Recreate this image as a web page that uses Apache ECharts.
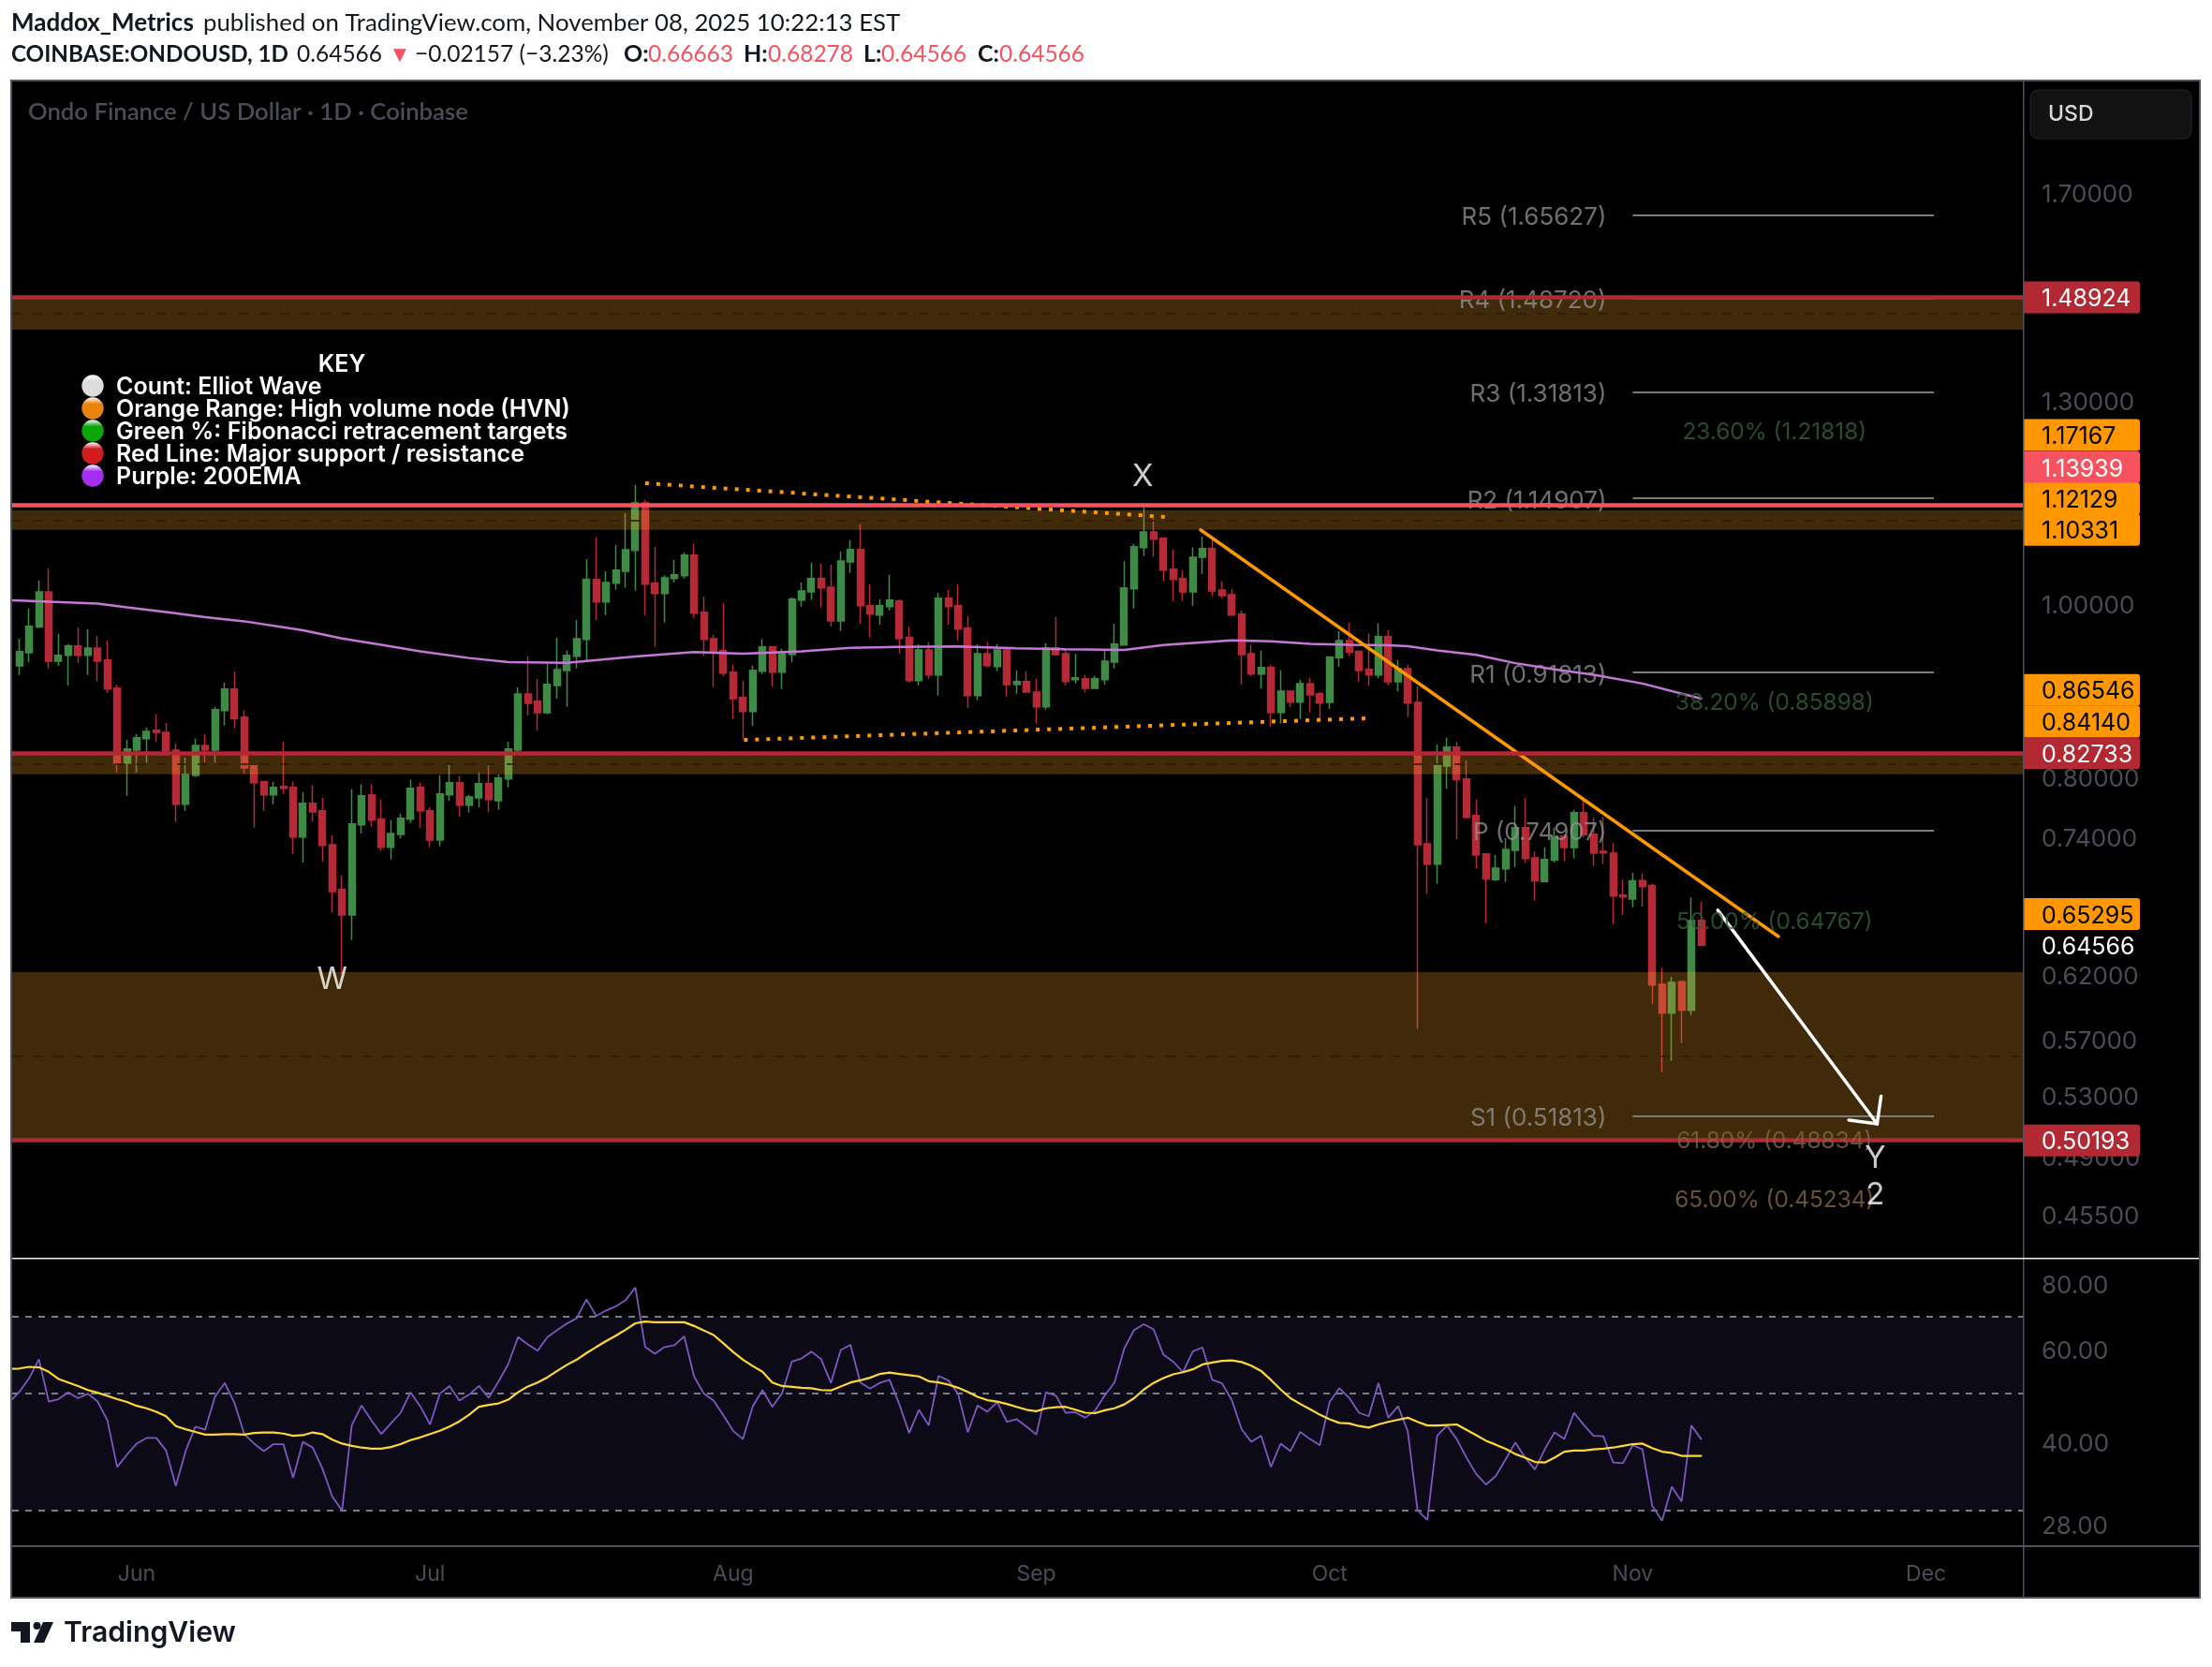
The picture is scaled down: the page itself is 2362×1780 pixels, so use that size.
<!DOCTYPE html>
<html>
<head>
<meta charset="utf-8">
<title>ONDOUSD</title>
<style>
html,body{margin:0;padding:0;background:#fff}
#main{width:2362px;height:1780px}
</style>
<script src="https://cdn.jsdelivr.net/npm/echarts@6/dist/echarts.min.js"></script>
</head>
<body>
<div id="main"></div>
<script>
// candles, one per day, index 0 = May 20 2025
var openPrices = [
  .9259,.9417,.9734,1.0186,.9315,.9384,.9498,.9384,.9474,.9327,
  .8996,.8166,.8305,.8427,.8519,.8496,.8305,.7744,.8037,.8355,
  .8305,.8739,.8984,.8664,.8138,.7972,.7839,.7924,.7914,.7423,
  .7753,.7678,.7350,.6938,.6714,.7540,.7839,.7596,.7325,.7448,
  .7596,.7914,.7678,.7394,.7839,.7962,.7734,.7808,.7952,.7780,
  .8000,.8305,.8929,.8844,.8716,.9027,.9202,.9372,.9579,1.0350,
  1.0053,1.0301,1.0459,1.0745,1.1423,1.0301,1.0164,1.0363,1.0398,1.0681,
  .9921,.9587,.9441,.9183,.8887,.8727,.9193,.9486,.9182,.9394,
  1.0077,1.0186,1.0361,1.0248,.9812,1.0587,1.0757,1.0005,.9884,.9993,
  1.0065,.9602,.9082,.9451,.9149,1.0101,1.0005,.9718,.8909,.9405,
  .9249,.9451,.9038,.9071,.8951,.8781,.9475,.9405,.9093,.9105,
  .8994,.9093,.9304,.9510,1.0224,1.0783,1.1005,1.0913,1.0487,1.0361,
  1.0186,1.0652,1.0770,1.0211,1.0149,.9896,.9405,.9160,.9238,.8717,
  .8962,.8834,.9049,.8932,.8832,.9356,.9565,.9434,.9216,.9149,
  .9613,.9070,.9225,.8832,.7358,.7168,.8136,.8337,.8000,.7632,
  .7264,.7026,.7125,.7297,.7514,.7227,.7009,.7204,.7431,.7323,
  .7660,.7451,.7287,.7270,.6888,.6853,.7019,.6974,.6139,.5916,
  .6159,.5936,.66663];
var highPrices = [
  .9587,.9968,1.0336,1.0496,.9645,.9522,.9730,.9705,.9624,.9567,
  .9039,.8416,.8478,.8548,.8698,.8601,.8377,.8227,.8427,.8478,
  .8780,.9062,.9191,.8739,.8138,.7982,.7972,.8395,.7972,.7866,
  .7934,.7808,.7439,.7064,.7897,.7945,.7945,.7791,.7586,.7652,
  .7993,.7962,.7714,.8040,.8155,.8030,.7839,.8068,.8145,.8047,
  .8395,.9008,.9372,.9105,.9283,.9600,.9441,.9823,1.0625,1.0926,
  1.0459,1.0819,1.1277,1.1694,1.1468,1.0796,1.0407,1.0616,1.0718,1.0833,
  1.0124,.9637,1.0040,.9271,.9082,.9260,.9581,.9498,.9463,1.0113,
  1.0311,1.0574,1.0561,1.0549,1.0730,1.0887,1.1113,1.0286,1.0089,1.0411,
  1.0089,.9741,.9521,.9544,1.0173,1.0211,1.0286,.9872,.9521,.9544,
  .9521,.9486,.9204,.9193,.9105,.9532,.9860,.9463,.9405,.9149,
  .9138,.9440,.9776,1.0600,1.0835,1.1357,1.1194,1.0913,1.0757,1.0474,
  1.0783,1.0939,1.0887,1.0324,1.0224,.9945,.9509,.9440,.9271,.9204,
  .8962,.9093,.9116,.8953,.9373,.9684,.9789,.9434,.9652,.9780,
  .9693,.9325,.9273,.9016,.7805,.8364,.8438,.8391,.8197,.7790,
  .7264,.7254,.7413,.7725,.7805,.7287,.7323,.7514,.7451,.7689,
  .7790,.7611,.7618,.7365,.7026,.7089,.7082,.6990,.6271,.6197,
  .6171,.6866,.68278];
var lowPrices = [
  .9148,.9303,.9721,.9226,.9259,.9027,.9295,.9148,.9074,.8941,
  .8068,.7828,.8068,.8173,.8395,.8245,.7570,.7678,.8020,.8173,
  .8173,.8571,.8541,.8058,.7514,.7678,.7744,.7849,.7262,.7184,
  .7570,.7193,.6737,.6226,.6500,.7458,.7524,.7291,.7212,.7413,
  .7560,.7514,.7325,.7335,.7780,.7622,.7662,.7714,.7668,.7688,
  .7914,.8255,.8687,.8519,.8698,.8875,.8780,.9226,.9303,.9823,
  .9883,1.0212,1.0239,1.0199,.9883,.9486,.9790,1.0310,1.0363,.9849,
  .9372,.9008,.9136,.8653,.8427,.8570,.9160,.9016,.8984,.9304,
  .9993,1.0077,.9981,.9741,.9683,1.0437,.9776,.9602,.9764,.9945,
  .9405,.9060,.9027,.9105,.8909,.9764,.9567,.8770,.8855,.9238,
  .9193,.8898,.8930,.8951,.8591,.8749,.9382,.9027,.9049,.8951,
  .8994,.9038,.9227,.9510,.9969,1.0666,1.0653,1.0324,1.0065,1.0065,
  1.0005,1.0424,1.0125,1.0101,.9884,.9038,.9138,.8994,.8560,.8591,
  .8781,.8642,.8717,.8620,.8759,.9247,.9373,.9070,.9028,.9111,
  .9028,.8957,.8668,.5796,.6898,.6990,.7899,.7400,.7604,.7132,
  .6643,.7013,.7006,.7141,.7181,.6841,.7009,.7184,.7198,.7221,
  .7424,.7151,.7171,.6637,.6714,.6781,.6787,.5987,.5481,.5562,
  .5693,.5900,.64566];
var closePrices = [
  .9429,.9743,1.0186,.9315,.9384,.9498,.9384,.9474,.9315,.8984,
  .8166,.8316,.8438,.8507,.8496,.8295,.7744,.8047,.8355,.8305,
  .8750,.8984,.8646,.8116,.7962,.7839,.7914,.7904,.7423,.7753,
  .7668,.7344,.6920,.6714,.7550,.7828,.7586,.7325,.7458,.7606,
  .7904,.7678,.7394,.7849,.7962,.7734,.7818,.7952,.7791,.8010,
  .8316,.8929,.8821,.8716,.9039,.9214,.9384,.9587,1.0350,1.0053,
  1.0310,1.0474,1.0755,1.1423,1.0288,1.0164,1.0372,1.0412,1.0681,.9908,
  .9579,.9429,.9171,.8875,.8728,.9204,.9486,.9182,.9405,1.0089,
  1.0198,1.0361,1.0236,.9812,1.0600,1.0757,1.0005,.9896,1.0005,1.0077,
  .9590,.9082,.9451,.9149,1.0101,.9993,.9706,.8909,.9405,.9260,
  .9451,.9038,.9071,.8951,.8781,.9475,.9394,.9071,.9116,.8994,
  .9105,.9315,.9521,1.0236,1.0796,1.1005,1.0900,1.0474,1.0349,1.0186,
  1.0652,1.0770,1.0198,1.0137,.9884,.9394,.9160,.9238,.8717,.8962,
  .8834,.9049,.8918,.8824,.9364,.9565,.9425,.9203,.9149,.9613,
  .9070,.9225,.8824,.7351,.7168,.8147,.8337,.7993,.7615,.7254,
  .7033,.7132,.7306,.7514,.7221,.7016,.7211,.7424,.7323,.7660,
  .7445,.7270,.7273,.6879,.6872,.7016,.6964,.6133,.5916,.6153,
  .5936,.6664,.64566];

// RSI and its moving average, same days as the candles
var rsiValues = [
  50.4,53.5,58.1,48.3,48.8,50.3,49,50,48.3,44.5,
  36.3,38.3,40.2,41.2,41.2,39,33.4,38.9,43.3,42.7,
  49.3,52.4,48,41.9,40.2,38.9,40.1,40.1,34.6,40.5,
  39.5,36,31.9,30,43.6,47.5,44.5,41.9,43.9,46,
  50.3,47.3,43.7,50,51.7,48.5,49.8,51.7,49.1,52.7,
  56.9,64,62,60.3,64,66,67.9,69.5,75.5,70.2,
  71.9,73.2,75.2,79.5,61.3,59.5,61.3,61.8,64.2,53.9,
  50,48.5,45.5,42.5,41,47.3,50.8,47.2,50.1,57.5,
  58.3,60.1,58.1,52.4,60.5,61.9,52.5,51.1,52.4,53.1,
  47.7,42.1,46.6,43.5,54,53,50,42.2,47.5,46.2,
  48.2,44.2,44.7,43.3,41.8,50.3,49.6,46,46.1,45,
  46.4,49.6,52.5,60.9,66,67.7,66.2,59.3,57.5,54.9,
  60.1,61.2,53.1,52.3,48.6,42.8,40.5,41.6,36.3,40.2,
  38.9,42.3,41,39.9,48.2,51.2,49.1,46,45.3,52.4,
  45,47.3,42.4,30,28.8,41.6,43.5,41,37.8,35.2,
  33.6,34.9,37.5,40.4,37.8,35.9,39.2,42.2,41,46,
  43.6,41.6,41.5,37,36.9,39.9,39.2,30.6,28.7,33.3,
  31.2,43.5,41];
var rsiMaValues = [
  55.8,56.2,56.1,55,53.3,52.5,51.7,50.8,50.2,49.5,
  48.8,48.2,47.4,46.9,46.2,45.3,43.4,42.8,42.3,41.8,
  41.8,41.9,41.9,41.8,42.1,42.2,42.2,42,41.6,41.7,
  42.2,41.9,40.9,40.2,39.8,39.5,39.3,39.3,39.6,40.1,
  40.8,41.3,41.9,42.5,43.3,44.3,45.6,47.2,47.6,47.9,
  48.7,50.3,51.6,52.5,53.7,55.2,56.7,58,59.7,61.3,
  62.9,64.4,66.1,68,68.5,68.3,68.3,68.3,68.3,67.2,
  65.9,64.6,62.3,60,58,56.4,55,52.5,51.7,51.5,
  51.3,51.2,50.8,50.7,51.6,52.5,53,53.6,54.5,54.8,
  54.5,54.2,53.9,52.8,52.5,52,51.3,50.4,49.3,48.6,
  48.3,47.8,47.2,46.6,46.3,46.9,47.1,47.2,46.6,46,
  45.9,46.5,46.9,47.7,49,50.9,52.4,53.5,54.4,54.9,
  55.6,56.8,57.3,57.7,57.8,57.4,56.5,55.2,53.1,50.9,
  49,47.8,46.7,45.6,44.7,44,43.9,43.4,43.1,43.7,
  44.2,44.6,45,44.2,43.5,43.5,43.6,43.7,42.7,41.7,
  40.7,40,39.3,38.4,37.8,37.1,37,37.8,38.8,39,
  39,39.2,39.3,39.5,39.8,40.1,40.2,39.4,38.8,38.6,
  38.1,38.1,38.1];
// the day before the first candle, only so the lines run to the pane edge
var rsiBefore = 48.2;
var rsiMaBefore = 55.7;

// 200 EMA, read at these candle indexes
var emaDays = [-1,0,3,8,11,15,19,23,29,33,37,41,46,50,56,63,69,74,80,85,90,96,102,107,113,117,124,128,132,136,140,142,145,149,153,157,161,166,172];
var emaValues = [1.0075,1.0071,1.0057,1.0032,.9985,.9925,.9857,.9806,.9692,.9591,.9514,.9433,.9352,.9303,.9293,.9371,.9424,.9405,.9432,.9475,.9486,.9494,.9471,.9459,.9451,.9509,.9567,.9556,.9525,.9512,.9508,.9495,.9443,.9390,.9290,.9216,.9153,.9049,.8874];

// axis labels
var priceTicks = [1.7,1.3,1.0,.8,.74,.62,.57,.53,.49,.455];
var rsiTicks = [80,60,40,28];
var monthDays = [12,42,73,104,134,165,195];
var monthNames = ['Jun','Jul','Aug','Sep','Oct','Nov','Dec'];

// drawn levels
var redLevels = [1.48924,.82733,.50193];
var pinkLevel = 1.13939;
var bandTops = [1.48924,1.1319,.8257,.6237];
var bandBottoms = [1.4285,1.1033,.8050,.50193];
var bandMids = [1.4582,1.1167,.8159,.5592];
var pivotNames = ['R5','R4','R3','R2','R1','P','S1'];
var pivotValues = [1.65627,1.48720,1.31813,1.14907,.91813,.74907,.51813];
var pivotDays = [165,195.8];
var fibNames = ['23.60%','38.20%','50.00%','61.80%','65.00%'];
var fibValues = [1.21818,.85898,.64767,.48834,.45234];
var fibDay = 179.5;
var waveNames = ['W','X','Y','2'];
var waveDays = [32,114.9,189.8,189.8];
var wavePrices = [.6172,1.1815,.4903,.4675];

// drawings
var dottedTop = [[64,1.17167],[117.9,1.12129]];
var dottedBottom = [[74.1,.84140],[138.4,.86546]];
var trendLine = [[120.8,1.10331],[179.9,.65295]];
var arrowLine = [[173.7,.6755],[190,.5128]];
var arrowHeadA = [[190.4,.5313],[190,.5128]];
var arrowHeadB = [[187.1,.5153],[190,.5128]];

// price scale tags; anchors are where the tag sits once the scale has stacked them
var tagTexts = ['1.48924','1.17167','1.13939','1.12129','1.10331','0.86546','0.84140','0.82733','0.65295','0.64566','0.50193'];
var tagAnchors = [1.48924,1.2468,1.1960,1.1487,1.10331,.8975,.8615,.82733,.6721,.64566,.50193];
var tagKinds = ['red','orange','pink','orange','orange','orange','orange','red','orange','plain','red'];

var keyNames = ['Count: Elliot Wave','Orange Range: High volume node (HVN)','Green %: Fibonacci retracement targets','Red Line: Major support / resistance','Purple: 200EMA'];
var keyColors = ['#dcdcdc','#e8840c','#0aa60a','#cf1c1c','#a52df2'];

var UI_FONT = 'Inter';
var X_MIN = -0.7375, X_MAX = 204.9;
var tagStyle = {
    red: {bg: '#b22833', fg: '#ffffff'},
    orange: {bg: '#ff9800', fg: '#000000'},
    pink: {bg: '#f7525f', fg: '#ffffff'},
    plain: {bg: null, fg: '#ffffff'}
};

var candles = openPrices.map(function (o, i) {
    return [i, o, closePrices[i], lowPrices[i], highPrices[i]];
});
function byDay(values, before) {
    return [[-1, before]].concat(values.map(function (v, i) { return [i, v]; }));
}
function plainLine(name, data, color, width, dash, z, xi, yi) {
    return {
        name: name, type: 'line', data: data, xAxisIndex: xi || 0, yAxisIndex: yi || 0,
        showSymbol: false, symbol: 'none', silent: true, z: z, clip: true,
        lineStyle: {color: color, width: width, type: dash || 'solid', cap: dash ? 'butt' : 'round'}
    };
}
function headerText(x, y, text, color, bold, size) {
    return {type: 'text', z: 52, x: x, y: y, style: {
        text: text, fill: color, font: (bold ? '700 ' : '400 ') + size + 'px Lato', verticalAlign: 'middle'
    }};
}

// static furniture of the page: header, frame, key, logo
var INK = '#131722', HEAD_RED = '#f7525f';
var graphics = [
    {type: 'rect', z: -10, shape: {x: 12, y: 86, width: 2337, height: 1620}, style: {fill: '#000000'}},
    {type: 'rect', z: 50, shape: {x: 11, y: 85, width: 2339, height: 2}, style: {fill: '#50535e'}},
    {type: 'rect', z: 50, shape: {x: 11, y: 1705, width: 2339, height: 2}, style: {fill: '#50535e'}},
    {type: 'rect', z: 50, shape: {x: 11, y: 85, width: 2, height: 1622}, style: {fill: '#50535e'}},
    {type: 'rect', z: 50, shape: {x: 2348, y: 85, width: 2, height: 1622}, style: {fill: '#50535e'}},
    {type: 'rect', z: 50, shape: {x: 2160, y: 86, width: 1.5, height: 1620}, style: {fill: '#50535e'}},
    {type: 'rect', z: 50, shape: {x: 13, y: 1650, width: 2335, height: 2}, style: {fill: '#50535e'}},
    {type: 'rect', z: 50, shape: {x: 13, y: 1343, width: 2335, height: 1.5}, style: {fill: '#f0f0f0'}},
    {type: 'rect', z: 51, shape: {x: 2168, y: 96, width: 172, height: 52, r: 8}, style: {fill: '#121212', stroke: '#26272b', lineWidth: 1}},
    {type: 'text', z: 52, x: 2187, y: 122, style: {text: 'USD', fill: '#d8d9dd', font: '500 23px ' + UI_FONT, verticalAlign: 'middle'}},
    {type: 'text', z: 52, x: 30, y: 120, style: {text: 'Ondo Finance / US Dollar · 1D · Coinbase', fill: '#4a4c57', font: '600 25.7px Lato', verticalAlign: 'middle'}},
    {type: 'text', z: 52, x: 365, y: 389.5, style: {text: 'KEY', fill: '#ffffff', font: '600 25px ' + UI_FONT, align: 'center', verticalAlign: 'middle'}},
    headerText(12, 25, 'Maddox_Metrics', INK, true, 26),
    headerText(217, 25, 'published on TradingView.com, November 08, 2025 10:22:13 EST', INK, false, 25.8),
    headerText(12, 58, 'COINBASE:ONDOUSD, 1D', INK, true, 24.2),
    headerText(317, 58, '0.64566', INK, false, 24.5),
    headerText(415, 58, '▼', HEAD_RED, false, 24),
    headerText(443, 58, '−0.02157 (−3.23%)', INK, false, 24.5),
    headerText(666, 58, 'O:', INK, true, 25),
    headerText(692, 58, '0.66663', HEAD_RED, false, 24.5),
    headerText(794, 58, 'H:', INK, true, 25),
    headerText(820, 58, '0.68278', HEAD_RED, false, 24.5),
    headerText(922, 58, 'L:', INK, true, 25),
    headerText(941, 58, '0.64566', HEAD_RED, false, 24.5),
    headerText(1044, 58, 'C:', INK, true, 25),
    headerText(1067, 58, '0.64566', HEAD_RED, false, 24.5),
    // TradingView mark and word
    {type: 'polygon', z: 52, shape: {points: [[12, 1732], [32, 1732], [32, 1754], [22, 1754], [22, 1742], [12, 1742]]}, style: {fill: INK}},
    {type: 'circle', z: 52, shape: {cx: 39.5, cy: 1736, r: 4}, style: {fill: INK}},
    {type: 'polygon', z: 52, shape: {points: [[46, 1732], [57, 1732], [47, 1754], [36, 1754]]}, style: {fill: INK}},
    {type: 'text', z: 52, x: 68, y: 1744, style: {text: 'TradingView', fill: INK, font: '600 30.2px Inter', verticalAlign: 'middle'}}
];
keyNames.forEach(function (name, k) {
    var y = 412 + k * 24;
    graphics.push({type: 'circle', z: 52, shape: {cx: 99, cy: y, r: 11.7}, style: {
        fill: new echarts.graphic.LinearGradient(0, 0, 0, 1, [{offset: 0, color: '#ffffff'}, {offset: .3, color: keyColors[k]}, {offset: 1, color: keyColors[k]}])
    }});
    graphics.push({type: 'text', z: 52, x: 124, y: y + 1.5, style: {text: name, fill: '#ffffff', font: '600 25px ' + UI_FONT, verticalAlign: 'middle'}});
});

var series = [
    {
        name: 'ONDOUSD', type: 'candlestick', data: candles, z: 2, silent: true, barWidth: 7.5,
        itemStyle: {color: '#3f8a46', color0: '#b52a36', borderColor: '#3f8a46', borderColor0: '#b52a36', borderWidth: 1.5}
    },
    // orange HVN ranges lie over the candles, so they tint them
    {
        name: 'ranges', type: 'line', data: [], silent: true,
        markArea: {
            silent: true, z: 3, precision: 5,
            itemStyle: {color: 'rgba(255,168,40,0.25)'},
            data: bandTops.map(function (t, k) { return [{yAxis: t}, {yAxis: bandBottoms[k]}]; })
        }
    },
    {
        name: 'range mids', type: 'line', data: [], silent: true,
        markLine: {
            silent: true, symbol: 'none', z: 3, precision: 5, label: {show: false},
            lineStyle: {color: '#2a1b07', width: 1.5, type: [10, 12]},
            data: bandMids.map(function (v) { return {yAxis: v}; })
        }
    },
    {
        name: 'levels', type: 'line', data: [], silent: true, z: 6,
        markLine: {
            silent: true, symbol: 'none', z: 6, precision: 5, label: {show: false},
            lineStyle: {color: '#b22833', width: 4.5, type: 'solid', opacity: 1},
            data: redLevels.map(function (v) { return {yAxis: v}; }).concat([{yAxis: pinkLevel, lineStyle: {color: '#f7525f', width: 4.5, type: 'solid', opacity: 1}}])
        }
    },
    {
        name: 'pivots', type: 'line', data: [], silent: true,
        markLine: {
            silent: true, symbol: 'none', z: 3, precision: 5,
            lineStyle: {color: '#7c7c7c', width: 2, type: 'solid'},
            label: {show: true, position: 'start', distance: 28, offset: [0, 3], color: 'rgba(150,150,150,0.75)', fontFamily: UI_FONT, fontSize: 26},
            data: pivotValues.map(function (v, k) {
                return [
                    {xAxis: pivotDays[0], yAxis: v, label: {formatter: pivotNames[k] + ' (' + v.toFixed(5) + ')'}},
                    {xAxis: pivotDays[1], yAxis: v}
                ];
            })
        }
    },
    plainLine('EMA 200', emaDays.map(function (d, k) { return [d, emaValues[k]]; }), '#c577d6', 2.5, null, 3),
    plainLine('dotted top', dottedTop, '#ff9800', 4, [4, 8], 5),
    plainLine('dotted bottom', dottedBottom, '#ff9800', 4, [4, 8], 5),
    plainLine('trend', trendLine, '#ff9800', 3.5, null, 5),
    plainLine('arrow', arrowLine, '#ffffff', 3.5, null, 6),
    plainLine('arrow head a', arrowHeadA, '#ffffff', 3.5, null, 6),
    plainLine('arrow head b', arrowHeadB, '#ffffff', 3.5, null, 6),
    {
        name: 'fib', type: 'scatter', symbolSize: 0, silent: true, z: 6,
        data: fibValues.map(function (v, k) {
            return {
                value: [fibDay, v],
                label: {
                    show: true, position: 'inside', offset: [0, -22],
                    formatter: fibNames[k] + ' (' + v.toFixed(5) + ')',
                    color: v < .5 ? '#7f6541' : '#325f38',
                    fontFamily: UI_FONT, fontSize: 24.4
                }
            };
        })
    },
    {
        name: 'wave', type: 'scatter', symbolSize: 0, silent: true, z: 7,
        data: waveNames.map(function (n, k) {
            return {
                value: [waveDays[k], wavePrices[k]],
                label: {show: true, position: 'inside', formatter: n, color: '#ffffff', fontFamily: UI_FONT, fontWeight: 400, fontSize: 33}
            };
        })
    },
    {
        // tags on the price scale
        name: 'tags', type: 'custom', z: 20, silent: true,
        data: tagAnchors.map(function (v) { return [0, v]; }),
        renderItem: function (params, api) {
            var y = api.coord([0, api.value(1)])[1];
            var x = params.coordSys.x + params.coordSys.width + 1;
            var kind = tagStyle[tagKinds[params.dataIndex]];
            var children = [];
            if (kind.bg) {
                children.push({type: 'rect', shape: {x: x, y: y - 17, width: 124, height: 34, r: [0, 3, 3, 0]}, style: {fill: kind.bg}});
            }
            children.push({type: 'text', style: {text: tagTexts[params.dataIndex], x: x + 19, y: y + 2, fill: kind.fg, font: '25px ' + UI_FONT, verticalAlign: 'middle'}});
            return {type: 'group', children: children};
        }
    },
    // RSI pane
    {
        name: 'rsi band', type: 'line', data: [], xAxisIndex: 1, yAxisIndex: 1, silent: true,
        markArea: {silent: true, z: 1, itemStyle: {color: '#0d0a18'}, data: [[{yAxis: 70}, {yAxis: 30}]]},
        markLine: {
            silent: true, symbol: 'none', z: 2, label: {show: false},
            lineStyle: {color: '#787b86', width: 2, type: [7, 7]},
            data: [{yAxis: 70}, {yAxis: 50}, {yAxis: 30}]
        }
    },
    plainLine('RSI', byDay(rsiValues, rsiBefore), '#7e57c2', 1.8, null, 3, 1, 1),
    plainLine('RSI MA', byDay(rsiMaValues, rsiMaBefore), '#fdd835', 2.2, null, 4, 1, 1)
];

var myChart = echarts.init(document.getElementById('main'));
var option = {
    backgroundColor: '#ffffff',
    animation: false,
    textStyle: {fontFamily: UI_FONT},
    graphic: graphics,
    grid: [
        {left: 13, top: 87, width: 2147, height: 1256},
        {left: 13, top: 1345, width: 2147, height: 305}
    ],
    xAxis: [
        {type: 'value', gridIndex: 0, min: X_MIN, max: X_MAX, show: false},
        {
            type: 'value', gridIndex: 1, min: X_MIN, max: X_MAX,
            axisLine: {show: false}, axisTick: {show: false}, splitLine: {show: false},
            axisLabel: {
                customValues: monthDays, margin: 20, color: '#4a4c57', fontSize: 23, fontFamily: UI_FONT,
                formatter: function (v) { return monthNames[monthDays.indexOf(v)]; }
            }
        }
    ],
    yAxis: [
        {
            type: 'log', gridIndex: 0, position: 'right', min: .4314, max: 1.9676,
            axisLine: {show: false}, axisTick: {show: false}, splitLine: {show: false}, minorSplitLine: {show: false},
            axisLabel: {
                customValues: priceTicks, margin: 20, color: '#4a4c57', fontSize: 26, fontFamily: UI_FONT, padding: [6, 0, 0, 0],
                formatter: function (v) { return Number(v).toFixed(5); }
            }
        },
        {
            type: 'log', gridIndex: 1, position: 'right', min: 25.78, max: 89.8,
            axisLine: {show: false}, axisTick: {show: false}, splitLine: {show: false}, minorSplitLine: {show: false},
            axisLabel: {
                customValues: rsiTicks, margin: 20, color: '#4a4c57', fontSize: 26, fontFamily: UI_FONT, padding: [6, 0, 0, 0],
                formatter: function (v) { return Number(v).toFixed(2); }
            }
        }
    ],
    series: series
};
myChart.setOption(option);
</script>
</body>
</html>
